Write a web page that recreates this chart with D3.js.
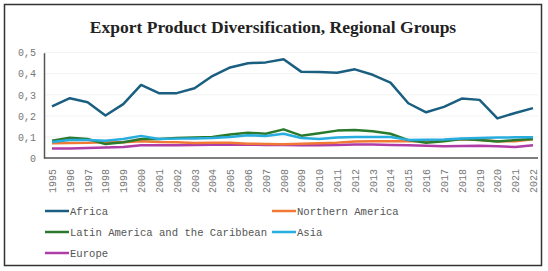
<!DOCTYPE html>
<html><head><meta charset="utf-8">
<script src="https://cdn.jsdelivr.net/npm/d3@7"></script>
<style>
html,body{margin:0;padding:0;background:#fff;}
svg{display:block;}
</style></head>
<body><svg id="chart" width="548" height="271"></svg>
<script>
const years = [1995,1996,1997,1998,1999,2000,2001,2002,2003,2004,2005,2006,2007,2008,2009,2010,2011,2012,2013,2014,2015,2016,2017,2018,2019,2020,2021,2022];
const africa = [0.245,0.284,0.265,0.202,0.256,0.347,0.308,0.308,0.331,0.389,0.430,0.450,0.454,0.469,0.409,0.408,0.405,0.421,0.395,0.358,0.260,0.217,0.243,0.282,0.276,0.188,0.214,0.237];
const northernAmerica = [0.070,0.071,0.072,0.075,0.075,0.080,0.076,0.075,0.071,0.072,0.072,0.068,0.066,0.065,0.068,0.070,0.073,0.078,0.080,0.080,0.080,0.080,0.084,0.089,0.085,0.080,0.080,0.089];
const latinAmerica = [0.082,0.096,0.090,0.066,0.075,0.090,0.090,0.095,0.097,0.100,0.112,0.120,0.115,0.136,0.106,0.118,0.130,0.133,0.127,0.115,0.085,0.072,0.080,0.090,0.085,0.078,0.085,0.090];
const asia = [0.076,0.085,0.085,0.082,0.090,0.105,0.090,0.092,0.093,0.095,0.100,0.108,0.105,0.115,0.095,0.090,0.097,0.100,0.100,0.100,0.086,0.087,0.088,0.093,0.095,0.097,0.098,0.098];
const europe = [0.045,0.045,0.047,0.050,0.052,0.060,0.060,0.060,0.062,0.063,0.063,0.063,0.062,0.062,0.060,0.060,0.062,0.064,0.064,0.062,0.060,0.058,0.056,0.057,0.058,0.056,0.052,0.060];
const yTicks = [0,0.1,0.2,0.3,0.4,0.5];
const seriesNames = ["Africa","Northern America","Latin America and the Caribbean","Asia","Europe"];
const seriesColors = ["#1b5f80","#f07a35","#2a7a2e","#27ade0","#b03ca8"];
const seriesValues = [africa, northernAmerica, latinAmerica, asia, europe];

const svg = d3.select("#chart");
const mono = "'Liberation Mono','Courier New',monospace";

// border
svg.append("rect").attr("x",4.5).attr("y",4.5).attr("width",537).attr("height",261)
  .attr("fill","#fff").attr("stroke","#333").attr("stroke-width",1.5);

svg.append("text").attr("x",273).attr("y",33).attr("text-anchor","middle")
  .attr("font-family","'Liberation Serif','Times New Roman',serif").attr("font-weight","bold")
  .attr("font-size",17.5).attr("fill","#222")
  .text("Export Product Diversification, Regional Groups");

const x = d3.scalePoint().domain(years).range([52,533]);
const y = d3.scaleLinear().domain([0,0.5]).range([158,52.7]);

// grid
svg.append("g").selectAll("line").data(yTicks.slice(1)).join("line")
  .attr("x1",44).attr("x2",538).attr("y1",d=>y(d)).attr("y2",d=>y(d))
  .attr("stroke","#f2f2f2").attr("stroke-width",1);

// y axis
const yAxis = svg.append("g").attr("transform","translate(44,0)")
  .call(d3.axisLeft(y).tickValues(yTicks).tickSize(0).tickPadding(8)
    .tickFormat(d => d===0 ? "0" : d3.format(".1f")(d).replace(".",",")));
yAxis.select(".domain").attr("stroke","#555").attr("stroke-width",1.5);
yAxis.selectAll("text").attr("font-family",mono).attr("font-size",10).attr("fill","#777");

// x axis
const xAxis = svg.append("g").attr("transform","translate(0,158)")
  .call(d3.axisBottom(x).tickSize(0).tickPadding(0).tickFormat(d=>String(d)));
xAxis.select(".domain").attr("stroke","#555").attr("stroke-width",1.5).attr("d","M44,0H538");
xAxis.selectAll("text").attr("font-family",mono).attr("font-size",10).attr("fill","#777")
  .attr("text-anchor","end").attr("dy","0.35em")
  .attr("transform","translate(0,11) rotate(-90)").attr("x",0).attr("y",0);

// lines
const line = d3.line().x((d,i)=>x(years[i])).y(d=>y(d));
const drawOrder = [4,1,2,3,0];
drawOrder.forEach(k=>{
  svg.append("path").datum(seriesValues[k]).attr("d",line)
    .attr("fill","none").attr("stroke",seriesColors[k]).attr("stroke-width",2.5)
    .attr("stroke-linejoin","round");
});

// legend
const legendPos = [[45,211],[272,211],[45,232],[272,232],[45,253]];
seriesNames.forEach((n,i)=>{
  const [lx,ly] = legendPos[i];
  svg.append("line").attr("x1",lx).attr("x2",lx+24).attr("y1",ly).attr("y2",ly)
    .attr("stroke",seriesColors[i]).attr("stroke-width",2.5);
  svg.append("text").attr("x",lx+25).attr("y",ly).attr("dy","0.35em")
    .attr("font-family",mono).attr("font-size",10.6).attr("fill","#555").text(n);
});
</script></body></html>
